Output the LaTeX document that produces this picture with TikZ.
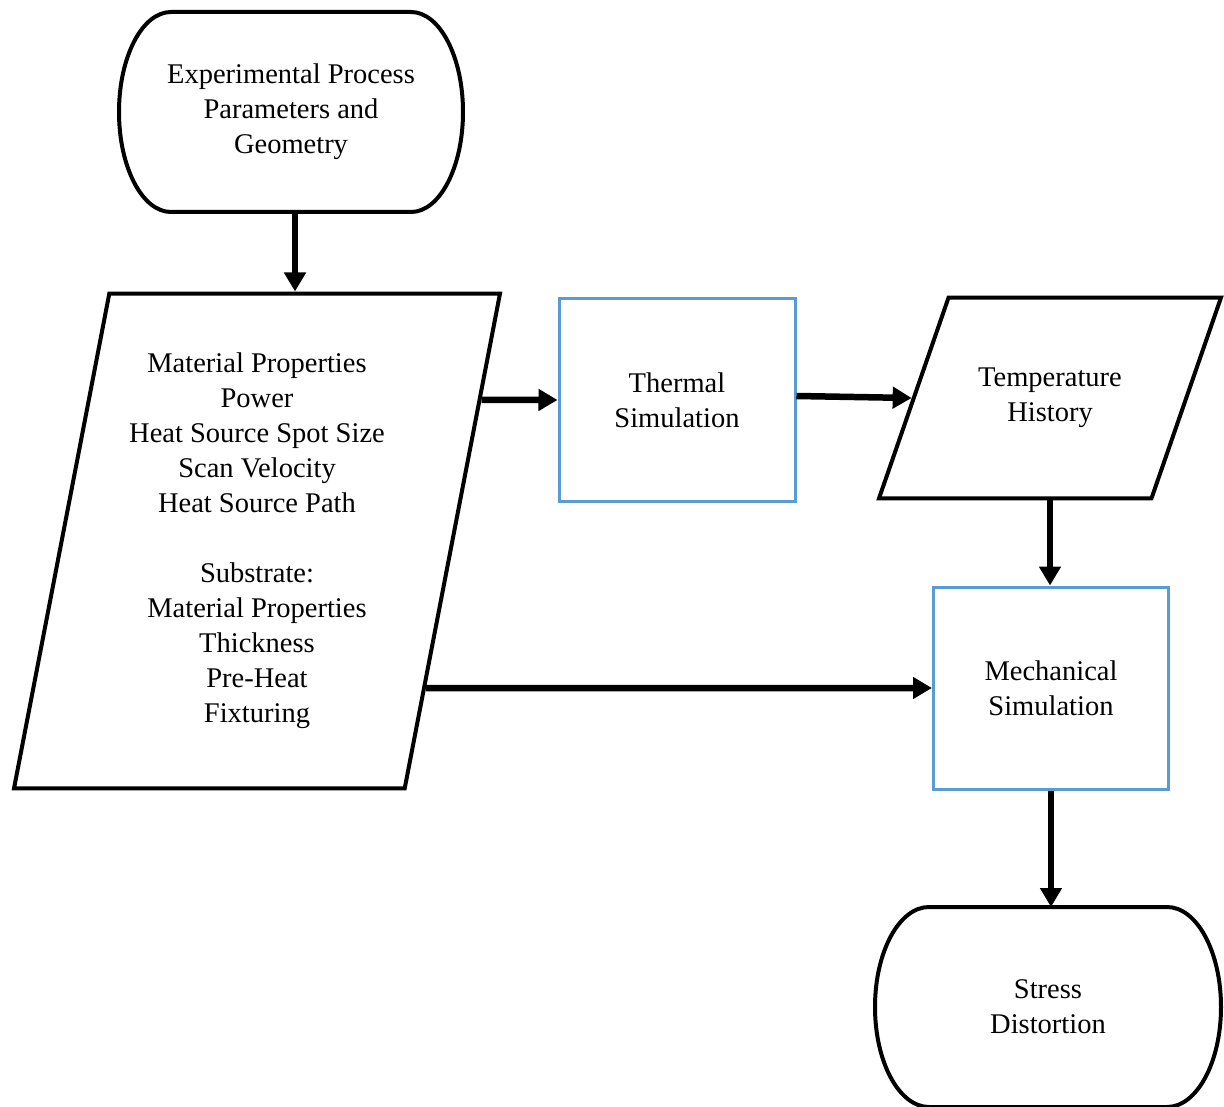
\documentclass[tikz,border=0pt]{standalone}
\usepackage{fontspec}
\setmainfont{Liberation Serif}
\usepackage{tikz}
\usepackage{xcolor}
\usetikzlibrary{arrows.meta, shapes.geometric, calc, positioning}
\definecolor{boxblue}{HTML}{5B9BD5}

\begin{document}
\begin{tikzpicture}[x=1pt, y=-1pt,
    every node/.style={font=\fontsize{28.5}{35}\selectfont, align=center},
    terminal/.style={minimum width=344pt, minimum height=200pt, inner sep=0pt, outer sep=0pt},
    termline/.style={line width=4pt},
    inout/.style={draw, line width=4pt, trapezium, trapezium stretches body, inner xsep=0pt},
    process/.style={draw=boxblue, line width=3pt, minimum width=236pt, minimum height=202pt},
    flow/.style={line width=6.5pt, -{Triangle[length=19pt, width=21pt]}}]
                        \useasboundingbox (0, 0) rectangle (1224, 1107);
                        \node[terminal] (start) at (291, 112) {Experimental Process\\Parameters and\\Geometry};
                        \node[inout, minimum width=486pt, inner ysep=59.5pt,
                              trapezium left angle=79.1, trapezium right angle=100.9] (params) at (257, 541)
                              {Material Properties\\Power\\Heat Source Spot Size\\Scan Velocity\\Heat Source Path\\[35pt]
                               Substrate:\\Material Properties\\Thickness\\Pre-Heat\\Fixturing};
                        \node[process] (thermal) at (677, 400) {Thermal\\Simulation};
                        \node[inout, minimum width=342pt, inner ysep=70.5pt,
                              trapezium left angle=70.9, trapezium right angle=109.1] (temp) at (1050, 398)
                              {Temperature\\History};
                        \node[process, minimum width=235pt] (mech) at (1051, 688) {Mechanical\\Simulation};
                        \node[terminal, minimum width=346pt] (stress) at (1048, 1007) {Stress\\Distortion};
                        \draw[termline]
                        ([xshift=52pt]start.north west) -- ([xshift=-52pt]start.north east)
                        arc[start angle=90, end angle=-90, x radius=52pt, y radius=100pt]
                        -- ([xshift=52pt]start.south west)
                        arc[start angle=270, end angle=90, x radius=52pt, y radius=100pt] -- cycle
                        ([xshift=54pt]stress.north west) -- ([xshift=-54pt]stress.north east)
                        arc[start angle=90, end angle=-90, x radius=54pt, y radius=100pt]
                        -- ([xshift=54pt]stress.south west)
                        arc[start angle=270, end angle=90, x radius=54pt, y radius=100pt] -- cycle;
                        \draw[flow] ([xshift=4pt]start.south) -- ([xshift=4pt]start.south |- params.north);
                        \draw[flow] ($(params.top right corner)!0.217!(params.bottom right corner)$) -- (thermal.west);
                        \draw[flow] ([yshift=4pt]thermal.east) -- (temp.west);
                        \draw[flow] (temp.south) -- (temp.south |- mech.north);
                        \draw[flow] ($(params.top right corner)!0.795!(params.bottom right corner)$) -- (mech.west);
                        \draw[flow] (mech.south) -- (mech.south |- stress.north);
                    \end{tikzpicture}
\end{document}
